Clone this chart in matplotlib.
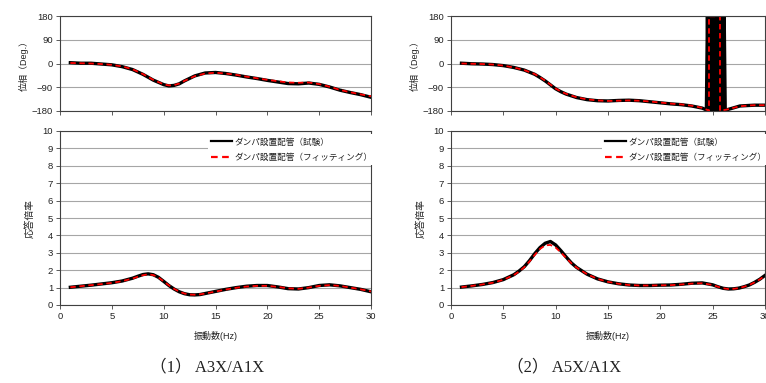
import numpy as np
import matplotlib
matplotlib.use("Agg")
from matplotlib import pyplot as plt

plt.rcParams['font.family'] = ['Liberation Sans', 'Noto Sans CJK JP', 'DejaVu Sans']

# ---- (1) A3X/A1X ----
f1_phase = [1, 2, 3, 4, 5, 6, 7, 8, 9, 10, 10.5, 11, 11.5, 12, 13, 14, 15, 16,
            17, 18, 19, 20, 21, 22, 23, 24, 25, 26, 27, 28, 29, 30]
p1_test = [3, 1, 1, -2, -5, -12, -23, -41, -63, -80, -85, -83, -77, -66, -47, -36,
           -34, -38, -44, -51, -57, -64, -70, -76, -77, -74, -79, -89, -101, -110, -118, -128]
p1_fit = [2, 1, 0, -2, -5, -11, -22, -40, -62, -79, -83, -82, -76, -66, -48, -38,
          -35, -38, -43, -50, -56, -62, -67, -72, -73, -72, -78, -88, -100, -109, -117, -124]

f1_mag = [1, 2, 3, 4, 5, 6, 7, 7.5, 8, 8.5, 9, 9.5, 10, 10.5, 11, 11.5, 12, 12.5,
          13, 13.5, 14, 15, 16, 17, 18, 19, 20, 21, 22, 23, 24, 25, 26, 27, 28, 29, 30]
m1_test = [1.02, 1.08, 1.14, 1.21, 1.28, 1.38, 1.54, 1.65, 1.75, 1.79, 1.74, 1.59, 1.36,
           1.12, 0.92, 0.76, 0.65, 0.59, 0.58, 0.6, 0.66, 0.78, 0.9, 1.0, 1.08, 1.12, 1.12,
           1.04, 0.94, 0.92, 1.0, 1.12, 1.16, 1.1, 1.0, 0.9, 0.76]
m1_fit = [1.02, 1.08, 1.14, 1.2, 1.27, 1.37, 1.52, 1.62, 1.71, 1.76, 1.72, 1.58, 1.36,
          1.13, 0.93, 0.77, 0.66, 0.6, 0.59, 0.61, 0.66, 0.77, 0.89, 0.99, 1.06, 1.1, 1.1,
          1.04, 0.96, 0.93, 1.0, 1.1, 1.14, 1.1, 1.0, 0.9, 0.78]

# ---- (2) A5X/A1X ----
f2_phase_test = [1, 2, 3, 4, 5, 6, 7, 8, 8.5, 9, 9.5, 10, 10.5, 11, 12, 13, 14, 15,
                 16, 17, 18, 19, 20, 21, 22, 23, 24, 24.4,
                 24.5, 24.6, 24.7, 24.8, 24.9, 25.0, 25.1, 25.2, 25.3, 25.4, 25.5,
                 25.6, 25.7, 25.8, 25.9, 26.0, 26.1, 26.2,
                 26.3, 27, 27.6, 28.5, 29, 30]
p2_test = [1, -1, -2, -4, -8, -15, -25, -41, -53, -66, -81, -96, -107, -116, -129, -137,
           -141, -142, -140, -139, -141, -145, -149, -153, -156, -161, -169, -176,
           180, -180, 180, -180, 180, -180, 180, -180, 180, -180, 180,
           -180, 180, -180, 180, -180, 180, -180,
           -176, -168, -161, -159, -158, -158]
f2_phase_fit = [1, 2, 3, 4, 5, 6, 7, 8, 8.5, 9, 9.5, 10, 10.5, 11, 12, 13, 14, 15,
                16, 17, 18, 19, 20, 21, 22, 23, 24, 24.5, 24.65, 24.65, 25.7, 25.7,
                26.3, 27, 27.6, 28.5, 29, 30]
p2_fit = [0, -1, -2, -4, -8, -15, -25, -40, -52, -65, -80, -95, -106, -115, -128, -136,
          -140, -142, -141, -140, -141, -144, -148, -152, -155, -160, -168, -176, -180,
          179, 179, -179, -175, -168, -162, -159, -158, -158]

f2_mag = [1, 2, 3, 4, 5, 6, 6.5, 7, 7.5, 8, 8.5, 9, 9.5, 10, 10.5, 11, 11.5, 12, 13,
          14, 15, 16, 17, 18, 19, 20, 21, 22, 23, 24, 25, 25.5, 26, 26.5, 27, 27.5, 28,
          28.5, 29, 29.5, 30]
m2_test = [1.03, 1.1, 1.18, 1.29, 1.46, 1.74, 1.95, 2.2, 2.55, 2.95, 3.3, 3.55, 3.65,
           3.45, 3.12, 2.76, 2.42, 2.16, 1.77, 1.5, 1.33, 1.22, 1.15, 1.12, 1.12, 1.14,
           1.15, 1.19, 1.25, 1.27, 1.16, 1.05, 0.96, 0.92, 0.93, 0.97, 1.05, 1.15, 1.3,
           1.48, 1.7]
m2_fit = [1.03, 1.1, 1.18, 1.28, 1.45, 1.72, 1.92, 2.17, 2.5, 2.88, 3.22, 3.43, 3.45,
          3.3, 3.02, 2.7, 2.4, 2.15, 1.77, 1.5, 1.33, 1.22, 1.15, 1.12, 1.12, 1.13, 1.14,
          1.18, 1.23, 1.25, 1.15, 1.05, 0.96, 0.92, 0.93, 0.97, 1.05, 1.15, 1.3, 1.47, 1.68]

label_test = "ダンパ設置配管（試験）"
label_fit = "ダンパ設置配管（フィッティング）"
captions = ["（1） A3X/A1X", "（2） A5X/A1X"]

W, H = 766, 383
fig = plt.figure(figsize=(W / 100, H / 100), dpi=100)

FRAME = '#404040'
GRID = '#a6a6a6'
TXT = '#222222'


def px_axes(x0, y0, x1, y1):
    return fig.add_axes([x0 / W, 1 - y1 / H, (x1 - x0) / W, (y1 - y0) / H])


def style(ax):
    for s in ax.spines.values():
        s.set_color(FRAME)
        s.set_linewidth(0.8)
    ax.grid(axis='y', color=GRID, linewidth=0.8)
    ax.set_axisbelow(True)
    ax.tick_params(direction='out', length=3, width=0.6, color=FRAME,
                   labelsize=6.8, labelcolor=TXT, pad=2)
    ax.set_xlim(0, 30)
    ax.set_xticks(np.arange(0, 31, 5))


def draw(x_left, x_right, fp_t, pt, fp_f, pf, fm, mt, mf, caption, cap_x):
    ax1 = px_axes(x_left, 16, x_right, 111)
    style(ax1)
    ax1.plot(fp_t, pt, color='black', lw=2.4)
    ax1.plot(fp_f, pf, color='#ff0000', lw=1.3, dashes=(3, 2))
    ax1.set_ylim(-180, 180)
    ax1.set_yticks([-180, -90, 0, 90, 180])
    ax1.set_xticklabels([])
    ax1.set_ylabel("位相（Deg.）", fontsize=6.5, color=TXT, labelpad=2)

    ax2 = px_axes(x_left, 131, x_right, 305)
    style(ax2)
    ax2.plot(fm, mt, color='black', lw=2.4, label=label_test)
    ax2.plot(fm, mf, color='#ff0000', lw=1.3, dashes=(3, 2), label=label_fit)
    ax2.set_ylim(0, 10)
    ax2.set_yticks(range(0, 11))
    ax2.set_ylabel("応答倍率", fontsize=7, color=TXT, labelpad=6)
    ax2.set_xlabel("振動数(Hz)", fontsize=6.5, color=TXT, labelpad=7)
    leg = ax2.legend(loc='upper right', bbox_to_anchor=(1.015, 0.98), fontsize=6.2,
                     frameon=True, fancybox=False, borderaxespad=0, borderpad=0.35,
                     handlelength=2.4, handletextpad=0.3, labelspacing=0.75)
    leg.get_frame().set_edgecolor('none')
    leg.get_frame().set_facecolor('white')
    leg.get_frame().set_alpha(1)
    for line in leg.get_lines():
        line.set_linewidth(1.6)
    for t in leg.get_texts():
        t.set_color(TXT)

    fig.text(cap_x / W, 1 - 367 / H, caption, ha='center', va='center',
             fontsize=12, family=['Liberation Serif', 'Noto Sans CJK JP'], color=TXT)


draw(60, 371, f1_phase, p1_test, f1_phase, p1_fit, f1_mag, m1_test, m1_fit,
     captions[0], 207)
draw(451, 765, f2_phase_test, p2_test, f2_phase_fit, p2_fit, f2_mag, m2_test, m2_fit,
     captions[1], 564)

fig.savefig("out.png", dpi=100)
